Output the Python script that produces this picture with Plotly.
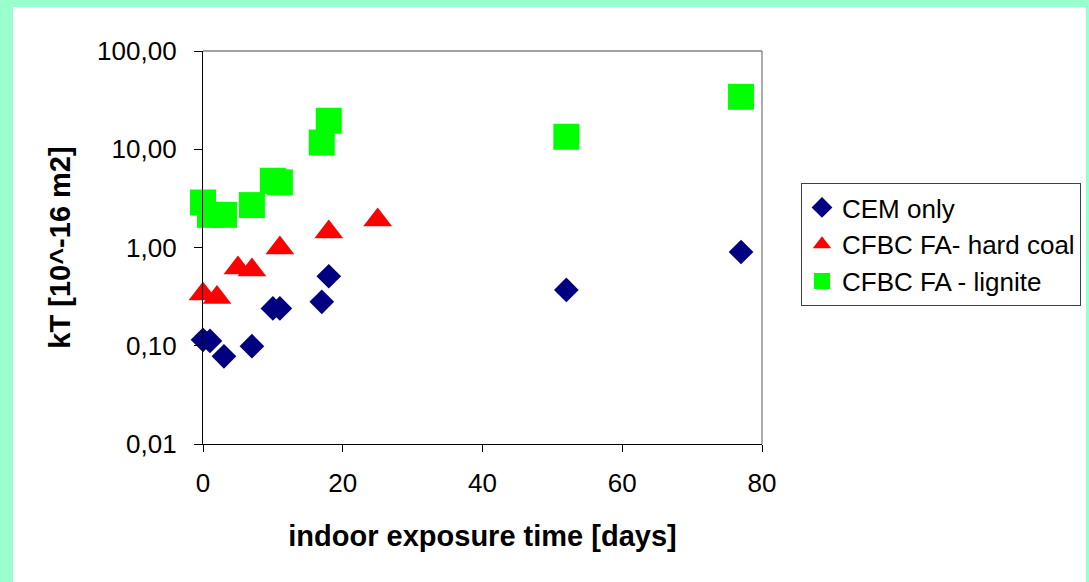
import plotly.graph_objects as go

# ---- data ----
cem_days = [0, 1, 3, 7, 10, 11, 17, 18, 52, 77]
cem_kt = [0.115, 0.112, 0.078, 0.099, 0.24, 0.24, 0.28, 0.51, 0.37, 0.90]

hard_days = [0, 2, 5, 7, 11, 18, 25]
hard_kt = [0.336, 0.31, 0.62, 0.59, 0.99, 1.44, 1.90]

lig_days = [0, 1, 3, 7, 10, 11, 17, 18, 52, 77]
lig_kt = [2.87, 2.15, 2.15, 2.70, 4.78, 4.60, 11.7, 19.5, 13.4, 34.2]

y_tickvals = [0.01, 0.1, 1, 10, 100]
y_ticktext = ["0,01", "0,10", "1,00", "10,00", "100,00"]
x_tickvals = [0, 20, 40, 60, 80]

W, H = 1089, 582
ML, MR, MT, MB = 203, 327, 51, 138
PW, PH = W - ML - MR, H - MT - MB


def px_x(p):
    return (p - ML) / PW


def px_y(p):
    return (H - MB - p) / PH


FONT = "Liberation Sans, Arial, sans-serif"

fig = go.Figure()
fig.add_trace(go.Scatter(
    x=cem_days, y=cem_kt, mode="markers", name="CEM only",
    marker=dict(symbol="diamond", size=19, color="#000080"), cliponaxis=False))
fig.add_trace(go.Scatter(
    x=hard_days, y=hard_kt, mode="markers", name="CFBC FA- hard coal",
    marker=dict(symbol="triangle-up", size=25, color="#FF0000"), cliponaxis=False))
fig.add_trace(go.Scatter(
    x=lig_days, y=lig_kt, mode="markers", name="CFBC FA - lignite",
    marker=dict(symbol="square", size=26, color="#00FF00"), cliponaxis=False))

shapes = [
    # white card on the mint frame
    dict(type="rect", xref="paper", yref="paper", layer="below",
         x0=px_x(13), x1=px_x(1086), y0=px_y(H + 5), y1=px_y(7),
         fillcolor="white", line=dict(width=0)),
    # top and right frame lines of the plot area
    dict(type="line", xref="paper", yref="paper", x0=0, x1=1, y0=1, y1=1,
         line=dict(color="#808080", width=1.3)),
    dict(type="line", xref="paper", yref="paper", x0=1, x1=1, y0=0, y1=1,
         line=dict(color="#808080", width=1.3)),
]

fig.update_layout(
    width=W, height=H,
    margin=dict(l=ML, r=MR, t=MT, b=MB, autoexpand=False),
    paper_bgcolor="#99FFCC", plot_bgcolor="white",
    font=dict(family=FONT, size=26, color="black"),
    shapes=shapes,
    showlegend=True,
    legend=dict(
        x=px_x(801), y=px_y(183), xanchor="left", yanchor="top",
        bgcolor="white", bordercolor="#404040", borderwidth=1,
        font=dict(family=FONT, size=26, color="black"),
        itemsizing="trace", tracegroupgap=0,
    ),
    xaxis=dict(
        range=[0, 80], tickvals=x_tickvals, ticks="outside", ticklen=7,
        tickcolor="black", showline=True, linecolor="black", linewidth=1.3,
        showgrid=False, zeroline=False, ticklabelstandoff=9,
        tickfont=dict(family=FONT, size=26),
        title=dict(text="<b>indoor exposure time [days]</b>", standoff=28,
                   font=dict(family=FONT, size=29)),
    ),
    yaxis=dict(
        type="log", range=[-2, 2], tickvals=y_tickvals, ticktext=y_ticktext,
        ticks="outside", ticklen=8, tickcolor="black", showline=True,
        linecolor="black", linewidth=1.3, showgrid=False, zeroline=False,
        ticklabelstandoff=12, tickfont=dict(family=FONT, size=26),
        title=dict(text="<b>kT [10^-16 m2]</b>", standoff=17,
                   font=dict(family=FONT, size=29)),
    ),
)

fig.write_html(
    "out.html",
    config={"displayModeBar": False},
    post_script="document.body.style.margin='0';document.body.style.overflow='hidden';",
)
